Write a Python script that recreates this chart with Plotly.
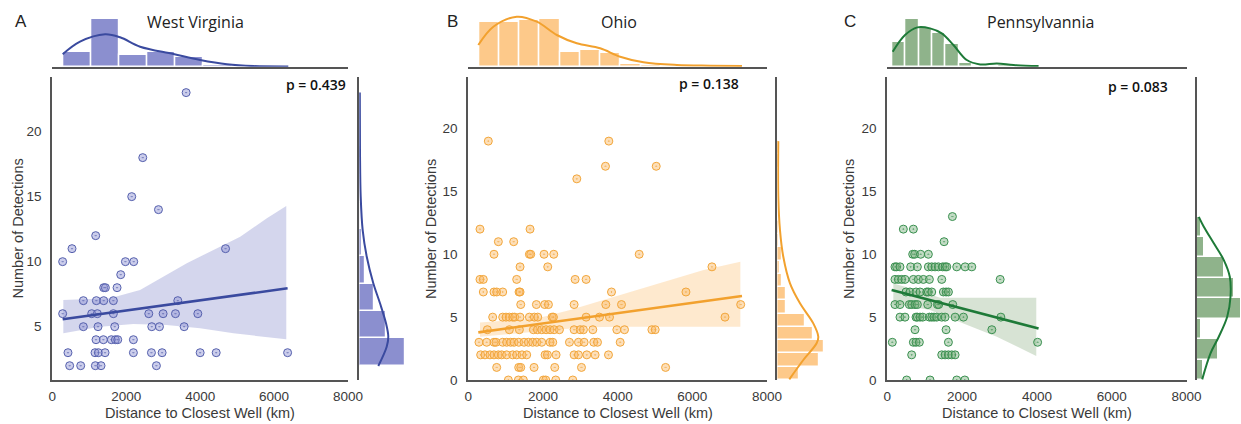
import numpy as np
import plotly.graph_objects as go

# ---------------- DATA ----------------
states = ["West Virginia", "Ohio", "Pennsylvannia"]
letters = ["A", "B", "C"]
p_values = ["p = 0.439", "p = 0.138", "p = 0.083"]
x_ticks = [0, 2000, 4000, 6000, 8000]

# West Virginia scatter (distance km, detections)
wv_x = [3621, 2447, 2149, 2872, 1174,
        533, 4687,
        280, 1978, 2203,
        1851,
        1391, 1436, 1752,
        840, 1192, 1391, 1652, 3395,
        280, 1066, 1219, 1652, 2610, 2998, 3332, 3937,
        840, 1237, 1689, 2691, 2899, 3567,
        1183, 1382, 1598, 1707, 1770, 2194,
        424, 1156, 1246, 1427, 2194, 2682, 2971, 4000, 4434, 6366,
        470, 768, 1165, 1318, 2817]
wv_y = [23, 18, 15, 14, 12,
        11, 11,
        10, 10, 10,
        9,
        8, 8, 8,
        7, 7, 7, 7, 7,
        6, 6, 6, 6, 6, 6, 6, 6,
        5, 5, 5, 5, 5, 5,
        4, 4, 4, 4, 4, 4,
        3, 3, 3, 3, 3, 3, 3, 3, 3, 3,
        2, 2, 2, 2, 2]

# Ohio scatter
oh_x = [536, 3764,
        3674, 5033,
        2906,
        313, 1654,
        805, 1216,
        688, 1636, 1672, 2029, 2289, 4577,
        1386, 2128, 6526,
        313, 402, 1296, 2861, 3156,
        402, 688, 760, 921, 1359, 1386, 3835, 5829,
        1404, 1824, 2047, 2146, 2834, 3683, 4103, 7295,
        653, 921, 1010, 1100, 1189, 1243, 1386, 1636, 1770, 1860, 2244, 2280, 3156, 3513, 3782, 6875,
        510, 1100, 1368, 1743, 1851, 1967, 2083, 2190, 2298, 2441, 2834, 2995, 3084, 3335, 3978, 4184, 4917, 5006,
        286, 492, 688, 742, 921, 1028, 1135, 1225, 1350, 1493, 1609, 1725, 1833, 1967, 2190, 2262, 2709, 2950, 3102, 3361, 3460, 4068,
        331, 447, 581, 688, 805, 894, 1028, 1189, 1296, 1439, 1564, 2056, 2119, 2351, 2834, 2950, 3174, 3397, 3755,
        760, 1350, 1404, 1761, 2315, 3031, 5284,
        1073, 1341, 1475, 2011, 2074, 2342, 2798]
oh_y = [19, 19,
        17, 17,
        16,
        12, 12,
        11, 11,
        10, 10, 10, 10, 10, 10,
        9, 9, 9,
        8, 8, 8, 8, 8,
        7, 7, 7, 7, 7, 7, 7, 7,
        6, 6, 6, 6, 6, 6, 6, 6,
        5, 5, 5, 5, 5, 5, 5, 5, 5, 5, 5, 5, 5, 5, 5, 5,
        4, 4, 4, 4, 4, 4, 4, 4, 4, 4, 4, 4, 4, 4, 4, 4, 4, 4,
        3, 3, 3, 3, 3, 3, 3, 3, 3, 3, 3, 3, 3, 3, 3, 3, 3, 3, 3, 3, 3, 3,
        2, 2, 2, 2, 2, 2, 2, 2, 2, 2, 2, 2, 2, 2, 2, 2, 2, 2, 2,
        1, 1, 1, 1, 1, 1, 1,
        0, 0, 0, 0, 0, 0, 0]

# Pennsylvania scatter
pa_x = [1741,
        429, 697,
        1518,
        679, 732, 893, 1098,
        205, 250, 339, 625, 804, 1098, 1188, 1277, 1366, 1482, 1545, 1590, 1857, 2081, 2259,
        205, 295, 384, 473, 697, 830, 964, 1125, 1456, 3018,
        500, 607, 768, 875, 1054, 1098, 1188, 1500, 1572, 1634,
        205, 339, 589, 652, 741, 804, 1081, 1340, 1375, 1750,
        339, 473, 768, 804, 875, 946, 1125, 1188, 1250, 1322, 1456, 1545, 1813, 2036, 3036,
        741, 1572, 2795,
        134, 697, 768, 857, 1634, 4019,
        652, 1456, 1545, 1634, 1723, 1813,
        518, 1143, 1857, 2072]
pa_y = [13,
        12, 12,
        11,
        10, 10, 10, 10,
        9, 9, 9, 9, 9, 9, 9, 9, 9, 9, 9, 9, 9, 9, 9,
        8, 8, 8, 8, 8, 8, 8, 8, 8, 8,
        7, 7, 7, 7, 7, 7, 7, 7, 7, 7,
        6, 6, 6, 6, 6, 6, 6, 6, 6, 6,
        5, 5, 5, 5, 5, 5, 5, 5, 5, 5, 5, 5, 5, 5, 5,
        4, 4, 4,
        3, 3, 3, 3, 3, 3,
        2, 2, 2, 2, 2, 2,
        0, 0, 0, 0]

# regression lines (endpoints) and confidence bands
wv_fit_x = [280, 6366]
wv_fit_y = [5.57, 7.95]
wv_ci_up_x = [298, 1562, 2375, 3097, 3639, 4361, 5084, 5806, 6330]
wv_ci_up_y = [7.05, 7.18, 7.82, 8.98, 9.88, 10.9, 11.92, 13.34, 14.28]
wv_ci_lo_x = [298, 1291, 2194, 3097, 4000, 4903, 6330]
wv_ci_lo_y = [4.49, 5.0, 5.2, 5.13, 4.87, 4.49, 4.03]

oh_fit_x = [268, 7331]
oh_fit_y = [3.79, 6.68]
oh_ci_up_x = [313, 1833, 2727, 3621, 4515, 5409, 6303, 7286]
oh_ci_up_y = [4.58, 4.9, 5.56, 6.36, 7.15, 7.95, 8.74, 9.4]
oh_ci_lo_x = [313, 1386, 2280, 3174, 4068, 7286]
oh_ci_lo_y = [3.44, 3.71, 3.97, 4.19, 4.24, 4.24]

pa_fit_x = [116, 4045]
pa_fit_y = [7.15, 4.10]
pa_ci_up_x = [161, 786, 1411, 3983]
pa_ci_up_y = [7.68, 7.15, 6.54, 6.54]
pa_ci_lo_x = [161, 1143, 2036, 2929, 3983]
pa_ci_lo_y = [6.09, 5.56, 4.5, 3.44, 1.91]

# marginal histograms (relative heights) and bin ranges
wv_top_bins = (290, 6380, 8)
wv_top_h = [14.4, 47.4, 11.7, 14.4, 10.0, 2.0, 0.0, 1.0]
oh_top_bins = (290, 7330, 13)
oh_top_h = [44.4, 44.7, 46.7, 47.7, 14.4, 16.7, 13.3, 2.7, 2.0, 0.9, 0.9, 0.9, 1.8]
pa_top_bins = (134, 4045, 11)
pa_top_h = [24.3, 47.3, 38.3, 33.3, 22.7, 4.0, 0.0, 1.0, 1.8, 0.0, 1.0]

wv_right_bins = (2, 23, 10)
wv_right_w = [45.7, 27.4, 15.0, 5.7, 3.4, 1.2, 1.2, 1.2, 0.0, 1.2]
oh_right_bins = (0, 19, 18)
oh_right_w = [22, 42, 47, 36, 28.3, 9.3, 9.3, 5.3, 3.3, 5.3, 1.5, 1.5, 0, 0, 0, 0.8, 1.5, 1.5]
pa_right_bins = (0, 13, 8)
pa_right_w = [6.7, 22.3, 4.7, 45.0, 38.0, 28.0, 8.0, 4.7]

# marginal KDE curves
wv_kde_top_x = [281, 750, 1428, 1834, 2376, 3278, 4001, 4724, 5446, 6385]
wv_kde_top_h = [12.4, 25, 32.4, 29.4, 20, 12.7, 6.7, 2.4, 0.6, 0.2]
oh_kde_top_x = [268, 671, 1297, 1834, 2370, 2906, 3531, 4067, 4692, 5587, 6480, 7330]
oh_kde_top_h = [21.7, 40, 50, 45, 31.7, 23.4, 18.4, 10, 4.4, 1.7, 1.0, 0.7]
pa_kde_top_x = [144, 474, 804, 1143, 1456, 1768, 2125, 2483, 2929, 3375, 4045]
pa_kde_top_h = [15, 31.7, 39.3, 38.3, 33.3, 21.7, 6.7, 2.3, 3.3, 1.7, 0.7]

wv_kde_right_y = [1.98, 3.46, 4.23, 5.26, 6.8, 8.34, 10.4, 12.4, 15, 18.4, 23]
wv_kde_right_w = [19, 27.4, 29, 26.7, 20.7, 14, 7.4, 3.4, 1.4, 0.7, 0.5]
oh_kde_right_y = [0.05, 1.59, 2.92, 3.44, 4.5, 6.1, 7.69, 9.8, 11.9, 14.6, 19]
oh_kde_right_w = [12, 26, 39.3, 41, 36, 22.7, 12.7, 6, 2.7, 1, 1]
pa_kde_right_y = [0.05, 2.12, 3.44, 5.03, 6.62, 8.21, 9.54, 10.87, 12.19, 12.98]
pa_kde_right_w = [5.7, 14, 22.3, 30.7, 34, 33.3, 27.3, 17.3, 7.3, 2.3]

# ---------------- STYLE / LAYOUT ----------------
W, H = 1241, 424
AX = "#555555"
TXT = "#3a3a3a"
TICKFONT = dict(family="Liberation Sans, Arial, sans-serif", size=13.5, color=TXT)
TITLEFONT = dict(family="Liberation Sans, Arial, sans-serif", size=14.5, color=TXT)
HFONT = "Open Sans, Noto Sans, sans-serif"

palettes = [
    dict(hist="#8b8fcf", line="#3a4a9f", mfill="rgba(140,145,210,0.45)", medge="#5560ad", band="rgba(170,174,220,0.5)"),
    dict(hist="#fdc98a", line="#f2a12e", mfill="rgba(250,185,100,0.45)", medge="#f2a63a", band="rgba(253,215,165,0.55)"),
    dict(hist="#8fb38b", line="#1e7a38", mfill="rgba(120,175,125,0.45)", medge="#3a9050", band="rgba(175,200,170,0.5)"),
]

panels = [
    dict(main_x=(52.3, 348.0), right_x=(359.3, 412.0), right_rng=52.7, yr=[0.9, 24.2], yt=[5, 10, 15, 20],
         sx=wv_x, sy=wv_y, fx=wv_fit_x, fy=wv_fit_y, cux=wv_ci_up_x, cuy=wv_ci_up_y, clx=wv_ci_lo_x, cly=wv_ci_lo_y,
         tb=wv_top_bins, th=wv_top_h, rb=wv_right_bins, rw=wv_right_w,
         ktx=wv_kde_top_x, kth=wv_kde_top_h, kry=wv_kde_right_y, krw=wv_kde_right_w,
         letter_x=21, title_x=195, p_right=348, p_y=84, ytitle_x=17.5),
    dict(main_x=(468.3, 767.0), right_x=(777.3, 830.0), right_rng=52.7, yr=[0, 24.1], yt=[0, 5, 10, 15, 20],
         sx=oh_x, sy=oh_y, fx=oh_fit_x, fy=oh_fit_y, cux=oh_ci_up_x, cuy=oh_ci_up_y, clx=oh_ci_lo_x, cly=oh_ci_lo_y,
         tb=oh_top_bins, th=oh_top_h, rb=oh_right_bins, rw=oh_right_w,
         ktx=oh_kde_top_x, kth=oh_kde_top_h, kry=oh_kde_right_y, krw=oh_kde_right_w,
         letter_x=452, title_x=619, p_right=741, p_y=83, ytitle_x=431),
    dict(main_x=(887.3, 1186.5), right_x=(1196.5, 1241.0), right_rng=44.5, yr=[0, 24.1], yt=[0, 5, 10, 15, 20],
         sx=pa_x, sy=pa_y, fx=pa_fit_x, fy=pa_fit_y, cux=pa_ci_up_x, cuy=pa_ci_up_y, clx=pa_ci_lo_x, cly=pa_ci_lo_y,
         tb=pa_top_bins, th=pa_top_h, rb=pa_right_bins, rw=pa_right_w,
         ktx=pa_kde_top_x, kth=pa_kde_top_h, kry=pa_kde_right_y, krw=pa_kde_right_w,
         letter_x=849.5, title_x=1040, p_right=1170, p_y=86, ytitle_x=849),
]

def fx_(p):
    return p / W

def fy_(p):
    return 1 - p / H

MAIN_Y = (380.0, 77.0)
TOP_Y = (66.7, 0.0)

fig = go.Figure()
layout = dict(width=W, height=H, margin=dict(l=0, r=0, t=0, b=0, autoexpand=False),
              paper_bgcolor="white", plot_bgcolor="white", showlegend=False)
annotations = []

for k, (pn, pal) in enumerate(zip(panels, palettes)):
    i_main, i_top, i_right = 3 * k + 1, 3 * k + 2, 3 * k + 3
    xa = lambda i: "x" if i == 1 else f"x{i}"
    ya = lambda i: "y" if i == 1 else f"y{i}"
    xkey = lambda i: "xaxis" if i == 1 else f"xaxis{i}"
    ykey = lambda i: "yaxis" if i == 1 else f"yaxis{i}"

    mx = [fx_(pn["main_x"][0]), fx_(pn["main_x"][1])]
    my = [fy_(MAIN_Y[0]), fy_(MAIN_Y[1])]
    ty = [fy_(TOP_Y[0]), fy_(TOP_Y[1])]
    rx = [fx_(pn["right_x"][0]), min(1.0, fx_(pn["right_x"][1]))]

    # main axes
    layout[xkey(i_main)] = dict(domain=mx, range=[0, 8000], tickvals=x_ticks, showgrid=False, zeroline=False,
                                showline=True, linecolor=AX, linewidth=2, ticks="", tickfont=TICKFONT,
                                ticklabelstandoff=3, anchor=ya(i_main), fixedrange=True, automargin=False)
    layout[ykey(i_main)] = dict(domain=my, range=pn["yr"], tickvals=pn["yt"], showgrid=False, zeroline=False,
                                showline=True, linecolor=AX, linewidth=2, ticks="", tickfont=TICKFONT,
                                ticklabelstandoff=6, anchor=xa(i_main), fixedrange=True, automargin=False)
    # top marginal
    layout[xkey(i_top)] = dict(domain=mx, range=[0, 8000], showgrid=False, zeroline=False, showline=True,
                               linecolor=AX, linewidth=2, showticklabels=False, ticks="", anchor=ya(i_top),
                               automargin=False)
    layout[ykey(i_top)] = dict(domain=ty, range=[0, 66.7], visible=False, anchor=xa(i_top), automargin=False)
    # right marginal
    layout[xkey(i_right)] = dict(domain=rx, range=[0, pn["right_rng"]], visible=False, anchor=ya(i_right),
                                 automargin=False)
    layout[ykey(i_right)] = dict(domain=my, range=pn["yr"], showgrid=False, zeroline=False, showline=True,
                                 linecolor=AX, linewidth=2, showticklabels=False, ticks="", anchor=xa(i_right),
                                 automargin=False)

    # CI band
    bx = list(pn["cux"]) + list(pn["clx"])[::-1]
    by = list(pn["cuy"]) + list(pn["cly"])[::-1]
    fig.add_trace(go.Scatter(x=bx, y=by, fill="toself", fillcolor=pal["band"], line=dict(width=0),
                             mode="lines", hoverinfo="skip", xaxis=xa(i_main), yaxis=ya(i_main)))
    # scatter
    fig.add_trace(go.Scatter(x=pn["sx"], y=pn["sy"], mode="markers",
                             marker=dict(symbol="circle-dot", size=8, color=pal["mfill"],
                                         line=dict(color=pal["medge"], width=1)),
                             xaxis=xa(i_main), yaxis=ya(i_main)))
    # regression line
    fig.add_trace(go.Scatter(x=pn["fx"], y=pn["fy"], mode="lines", line=dict(color=pal["line"], width=2.6),
                             xaxis=xa(i_main), yaxis=ya(i_main)))

    # top histogram
    lo, hi, n = pn["tb"]
    edges = np.linspace(lo, hi, n + 1)
    centers = (edges[:-1] + edges[1:]) / 2
    fig.add_trace(go.Bar(x=centers, y=pn["th"], width=(hi - lo) / n, marker=dict(color=pal["hist"],
                         line=dict(color="white", width=1.5)), xaxis=xa(i_top), yaxis=ya(i_top)))
    fig.add_trace(go.Scatter(x=pn["ktx"], y=pn["kth"], mode="lines", line=dict(color=pal["line"], width=2, shape="spline"),
                             xaxis=xa(i_top), yaxis=ya(i_top)))

    # right histogram
    lo, hi, n = pn["rb"]
    edges = np.linspace(lo, hi, n + 1)
    centers = (edges[:-1] + edges[1:]) / 2
    fig.add_trace(go.Bar(y=centers, x=pn["rw"], orientation="h", width=(hi - lo) / n,
                         marker=dict(color=pal["hist"], line=dict(color="white", width=1.5)),
                         xaxis=xa(i_right), yaxis=ya(i_right)))
    fig.add_trace(go.Scatter(x=pn["krw"], y=pn["kry"], mode="lines", line=dict(color=pal["line"], width=2, shape="spline"),
                             xaxis=xa(i_right), yaxis=ya(i_right)))

    # texts
    annotations.append(dict(text=letters[k], x=fx_(pn["letter_x"]), y=fy_(21), xref="paper", yref="paper",
                            showarrow=False, xanchor="center", yanchor="middle",
                            font=dict(family="Liberation Sans, Arial, sans-serif", size=17, color="#222")))
    annotations.append(dict(text=states[k], x=fx_(pn["title_x"]), y=fy_(22), xref="paper", yref="paper",
                            showarrow=False, xanchor="center", yanchor="middle",
                            font=dict(family=HFONT, size=16, color="#222")))
    annotations.append(dict(text=p_values[k], x=fx_(pn["p_right"]), y=fy_(pn["p_y"]), xref="paper", yref="paper",
                            showarrow=False, xanchor="right", yanchor="middle",
                            font=dict(family=HFONT, size=14, color="#111", weight=600)))
    annotations.append(dict(text="Distance to Closest Well (km)", x=fx_((pn["main_x"][0] + pn["main_x"][1]) / 2),
                            y=fy_(413), xref="paper", yref="paper", showarrow=False,
                            xanchor="center", yanchor="middle", font=TITLEFONT))
    annotations.append(dict(text="Number of Detections", x=fx_(pn["ytitle_x"]), y=fy_(229), xref="paper",
                            yref="paper", showarrow=False, textangle=-90, xanchor="center", yanchor="middle",
                            font=TITLEFONT))

layout["annotations"] = annotations
layout["bargap"] = 0
fig.update_layout(**layout)
fig.write_html("out.html", config={"displayModeBar": False},
               post_script="document.body.style.margin='0';document.body.style.padding='0';")
